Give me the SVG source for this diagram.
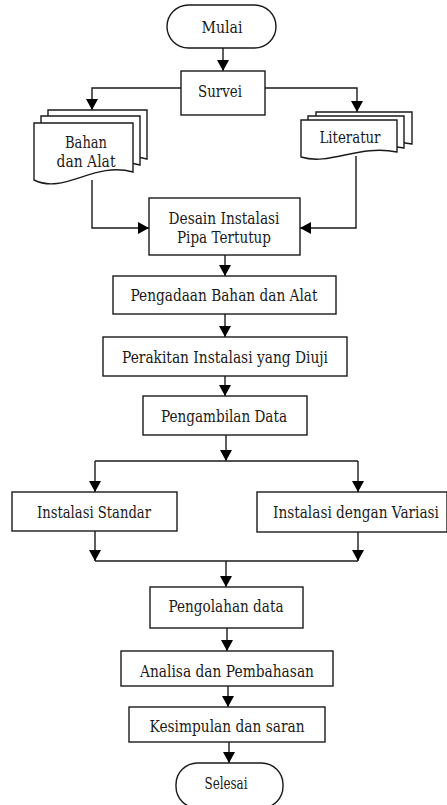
<svg xmlns="http://www.w3.org/2000/svg" xmlns:xlink="http://www.w3.org/1999/xlink" width="447" height="805" viewBox="0 0 447 805">
<style>
.box{fill:#fff;stroke:#1a1a1a;stroke-width:1.4}
.ln{fill:none;stroke:#1a1a1a;stroke-width:1.4}
.arr{marker-end:url(#ah)}
text{font-family:"DejaVu Serif",serif;font-size:16px;fill:#1a1a1a;text-anchor:middle}
</style>
<defs>
<marker id="ah" markerUnits="userSpaceOnUse" markerWidth="12" markerHeight="12" refX="11" refY="6" orient="auto">
<path d="M0,0 L11,6 L0,12 Z" fill="#000"/>
</marker>
<path id="docA" d="M0,0 H99 V49 C60,38 30,72 0,57 Z"/>
<path id="docB" d="M0,0 H96 V32 C58,24 29,46 0,37 Z"/>
</defs>
<rect width="447" height="805" fill="#fff"/>
<g id="connectors">
<path class="ln arr" d="M223,48 V71"/>
<path class="ln arr" d="M181,88 H92 V110"/>
<path class="ln arr" d="M265,88 H357 V112"/>
<path class="ln arr" d="M92,180 V228 H149"/>
<path class="ln arr" d="M356,156 V228 H300"/>
<path class="ln arr" d="M225,255 V276"/>
<path class="ln arr" d="M225,314 V337"/>
<path class="ln arr" d="M225,376 V396"/>
<path class="ln arr" d="M226,435 V461"/>
<path class="ln" d="M95,461 H358"/>
<path class="ln arr" d="M95,461 V492"/>
<path class="ln arr" d="M358,461 V492"/>
<path class="ln arr" d="M95,531 V561"/>
<path class="ln arr" d="M358,532 V561"/>
<path class="ln" d="M95,561 H358"/>
<path class="ln arr" d="M226,561 V587"/>
<path class="ln arr" d="M227,628 V651"/>
<path class="ln arr" d="M228,686 V707"/>
<path class="ln arr" d="M229,742 V763"/>
</g>
<g id="mulai"><rect class="box" x="167" y="5" width="109" height="43" rx="21.5"/><text x="222" y="33" textLength="41" lengthAdjust="spacingAndGlyphs">Mulai</text></g>
<g id="survei"><rect class="box" x="181" y="71" width="84" height="44"/><text x="220" y="97" textLength="44" lengthAdjust="spacingAndGlyphs">Survei</text></g>
<g id="bahan">
<use xlink:href="#docA" class="box" transform="translate(48,110)"/>
<use xlink:href="#docA" class="box" transform="translate(41,116)"/>
<use xlink:href="#docA" class="box" transform="translate(34,123)"/>
<text x="86" y="148" textLength="42" lengthAdjust="spacingAndGlyphs">Bahan</text><text x="86" y="167" textLength="59" lengthAdjust="spacingAndGlyphs">dan Alat</text>
</g>
<g id="literatur">
<use xlink:href="#docB" class="box" transform="translate(316,112)"/>
<use xlink:href="#docB" class="box" transform="translate(308,116)"/>
<use xlink:href="#docB" class="box" transform="translate(301,120)"/>
<text x="350" y="143" textLength="61" lengthAdjust="spacingAndGlyphs">Literatur</text>
</g>
<g id="desain"><rect class="box" x="149" y="198" width="151" height="57"/><text x="224" y="224" textLength="111" lengthAdjust="spacingAndGlyphs">Desain Instalasi</text><text x="224" y="243" textLength="94" lengthAdjust="spacingAndGlyphs">Pipa Tertutup</text></g>
<g id="pengadaan"><rect class="box" x="113" y="276" width="223" height="38"/><text x="224" y="301" textLength="187" lengthAdjust="spacingAndGlyphs">Pengadaan Bahan dan Alat</text></g>
<g id="perakitan"><rect class="box" x="103" y="337" width="244" height="39"/><text x="225" y="363" textLength="206" lengthAdjust="spacingAndGlyphs">Perakitan Instalasi yang Diuji</text></g>
<g id="pengambilan"><rect class="box" x="143" y="396" width="164" height="39"/><text x="224" y="422" textLength="126" lengthAdjust="spacingAndGlyphs">Pengambilan Data</text></g>
<g id="standar"><rect class="box" x="12" y="492" width="165" height="39"/><text x="94" y="518" textLength="114" lengthAdjust="spacingAndGlyphs">Instalasi Standar</text></g>
<g id="variasi"><rect class="box" x="257" y="492" width="190" height="40"/><text x="356" y="518" textLength="166" lengthAdjust="spacingAndGlyphs">Instalasi dengan Variasi</text></g>
<g id="pengolahan"><rect class="box" x="150" y="587" width="153" height="41"/><text x="226" y="612" textLength="115" lengthAdjust="spacingAndGlyphs">Pengolahan data</text></g>
<g id="analisa"><rect class="box" x="121" y="651" width="212" height="35"/><text x="227" y="677" textLength="174" lengthAdjust="spacingAndGlyphs">Analisa dan Pembahasan</text></g>
<g id="kesimpulan"><rect class="box" x="129" y="707" width="196" height="35"/><text x="227" y="732" textLength="155" lengthAdjust="spacingAndGlyphs">Kesimpulan dan saran</text></g>
<g id="selesai"><rect class="box" x="176" y="763" width="107" height="45" rx="21.5"/><text x="226" y="789" textLength="43" lengthAdjust="spacingAndGlyphs">Selesai</text></g>
</svg>
